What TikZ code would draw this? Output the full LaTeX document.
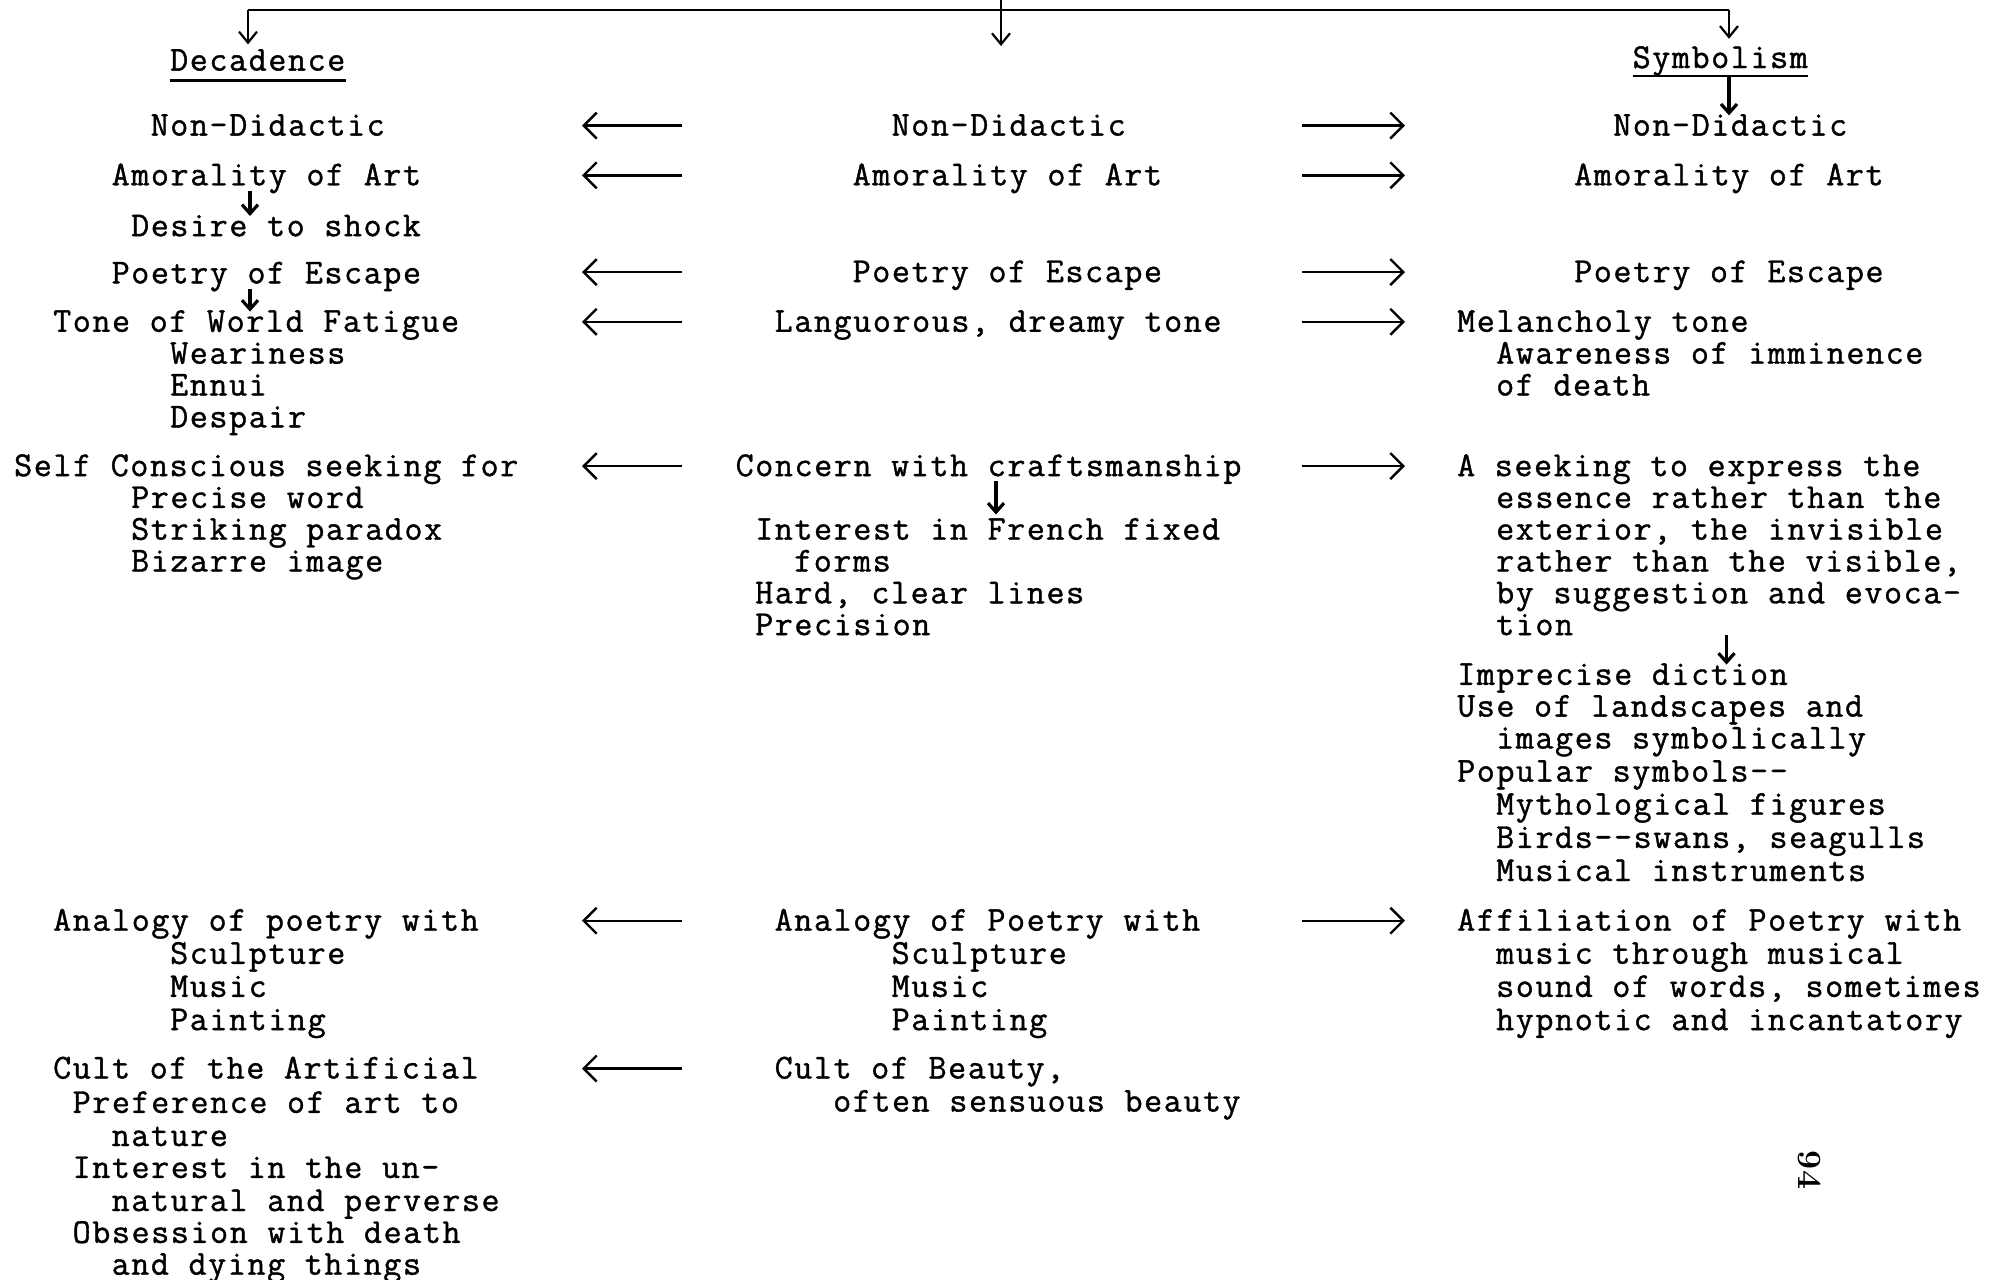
\documentclass[tikz,border=0pt]{standalone}
\usepackage{fontspec}
\setmonofont[LetterSpace=4.6,FakeBold=1.1]{Latin Modern Mono}
\usetikzlibrary{arrows.meta}
\tikzset{
  tw/.style={anchor=base west, inner sep=0pt, text height=20pt, text depth=5pt, font=\ttfamily\fontsize{35}{35}\selectfont, text=black},
  harr/.style={line width=2.4pt, -{Straight Barb[length=13pt,width=26pt]}},
  varr/.style={line width=3.2pt, -{Straight Barb[length=9pt,width=16pt]}},
  tarr/.style={line width=2.2pt, -{Straight Barb[length=11pt,width=18pt]}},
  uline/.style={line width=2.4pt},
  pgnum/.style={font=\bfseries\fontsize{34}{34}\selectfont, rotate=-90, inner sep=0pt}
}
\newcommand\tw[4]{\node[tw] (#1) at ({14+19.5*#2},{#3+10.7}) {#4};}
\begin{document}
\begin{tikzpicture}[x=1pt,y=-1pt]
\useasboundingbox (0,0) rectangle (1998,1280);
\fill[white] (0,0) rectangle (1998,1280);

% ---------------- left column: Decadence
\tw{ldec}{8}{59.9}{Decadence}
\tw{lnd}{7}{124.9}{Non-Didactic}
\tw{lam}{5}{174.6}{Amorality of Art}
\tw{lds}{6}{225.5}{Desire to shock}
\tw{lpe}{5}{272.7}{Poetry of Escape}
\tw{lto}{2}{321.1}{Tone of World Fatigue}
\tw{lwe}{8}{353}{Weariness}
\tw{len}{8}{384.8}{Ennui}
\tw{lde}{8}{416.7}{Despair}
\tw{lsc}{0}{465.4}{Self Conscious seeking for}
\tw{lpw}{6}{497.2}{Precise word}
\tw{lsp}{6}{529.0}{Striking paradox}
\tw{lbi}{6}{560.8}{Bizarre image}
\tw{lan}{2}{920}{Analogy of poetry with}
\tw{lsu}{8}{953.1}{Sculpture}
\tw{lmu}{8}{986.2}{Music}
\tw{lpa}{8}{1019.4}{Painting}
\tw{lcu}{2}{1067.8}{Cult of the Artificial}
\tw{lpr}{3}{1102.2}{Preference of art to}
\tw{lna}{5}{1135.3}{nature}
\tw{lin}{3}{1167.2}{Interest in the un-}
\tw{lnp}{5}{1200.3}{natural and perverse}
\tw{lob}{3}{1232.2}{Obsession with death}
\tw{ldy}{5}{1264}{and dying things}

% ---------------- centre column
\tw{cnd}{45}{124.9}{Non-Didactic}
\tw{cam}{43}{174.6}{Amorality of Art}
\tw{cpe}{43}{271.4}{Poetry of Escape}
\tw{clt}{39}{321.1}{Languorous, dreamy tone}
\tw{ccc}{37}{465.4}{Concern with craftsmanship}
\tw{cif}{38}{529.0}{Interest in French fixed}
\tw{cfo}{40}{560.8}{forms}
\tw{chc}{38}{592.6}{Hard, clear lines}
\tw{cpr}{38}{624.4}{Precision}
\tw{can}{39}{920}{Analogy of Poetry with}
\tw{csu}{45}{953.1}{Sculpture}
\tw{cmu}{45}{986.2}{Music}
\tw{cpa}{45}{1019.4}{Painting}
\tw{ccb}{39}{1067.8}{Cult of Beauty,}
\tw{cos}{42}{1100.9}{often sensuous beauty}

% ---------------- right column: Symbolism
\tw{rsy}{83}{57.3}{Symbolism}
\tw{rnd}{82}{124.9}{Non-Didactic}
\tw{ram}{80}{174.6}{Amorality of Art}
\tw{rpe}{80}{271.4}{Poetry of Escape}
\tw{rme}{74}{321.1}{Melancholy tone}
\tw{raw}{76}{353}{Awareness of imminence}
\tw{rod}{76}{384.8}{of death}
\tw{rs1}{74}{465.4}{A seeking to express the}
\tw{rs2}{76}{497.2}{essence rather than the}
\tw{rs3}{76}{529.0}{exterior, the invisible}
\tw{rs4}{76}{560.8}{rather than the visible,}
\tw{rs5}{76}{592.6}{by suggestion and evoca-}
\tw{rs6}{76}{624.4}{tion}
\tw{rid}{74}{674.1}{Imprecise diction}
\tw{rul}{74}{705.9}{Use of landscapes and}
\tw{ris}{76}{737.8}{images symbolically}
\tw{rps}{74}{770.9}{Popular symbols--}
\tw{rmf}{76}{804}{Mythological figures}
\tw{rbs}{76}{837.2}{Birds--swans, seagulls}
\tw{rmi}{76}{870.3}{Musical instruments}
\tw{raf}{74}{920}{Affiliation of Poetry with}
\tw{rmt}{76}{953.1}{music through musical}
\tw{rsw}{76}{986.2}{sound of words, sometimes}
\tw{rhi}{76}{1019.4}{hypnotic and incantatory}

% page number
\node[pgnum] (pg) at (1809,1170) {94};

% ---------------- top bracket
\coordinate (ctop) at (1001,0);
\coordinate (cbot) at (1001,46);
\coordinate (lc) at (248,10);
\coordinate (rc) at (1729,10);
\draw[uline] (lc) -- (rc);
\draw[tarr, shorten >=6pt] (lc) -- (lc |- ldec.north);
\draw[tarr, shorten >=9pt] (rc) -- (rc |- rsy.north);
\draw[tarr] (ctop) -- (cbot);

% underlines
\draw[uline] ([yshift=-10pt]ldec.base west) -- ([yshift=-10pt]ldec.base east);
\draw[uline] ([yshift=-8pt]rsy.base west) -- ([yshift=-8pt]rsy.base east);
\coordinate (symu) at ([yshift=-8pt]rsy.base);
\coordinate (ax0) at (1729,0);
\draw[varr] (symu -| ax0) -- (rnd.north -| ax0);

% small vertical arrows
\coordinate (ax1) at (250,0);
\coordinate (ax3) at (996,0);
\coordinate (ax4) at (1726.5,0);
\draw[varr] (lam.south -| ax1) -- (lds.north -| ax1);
\draw[varr] (lpe.south -| ax1) -- (lto.north -| ax1);
\draw[varr, shorten >=5pt] (ccc.south -| ax3) -- (cif.north -| ax3);
\draw[varr, shorten <=-5pt] (rs6.south -| ax4) -- (rid.north -| ax4);

% horizontal arrows
\coordinate (xLs) at (682,0);
\coordinate (xLe) at (582,0);
\coordinate (xRs) at (1302,0);
\coordinate (xRe) at (1405,0);
\foreach \n in {cnd,cam,cpe,clt,ccc,can}{
  \draw[harr] ([yshift=10pt]\n.base -| xLs) -- ([yshift=10pt]\n.base -| xLe);
  \draw[harr] ([yshift=10pt]\n.base -| xRs) -- ([yshift=10pt]\n.base -| xRe);
}
\draw[harr] ([yshift=10pt]ccb.base -| xLs) -- ([yshift=10pt]ccb.base -| xLe);
\end{tikzpicture}
\end{document}
